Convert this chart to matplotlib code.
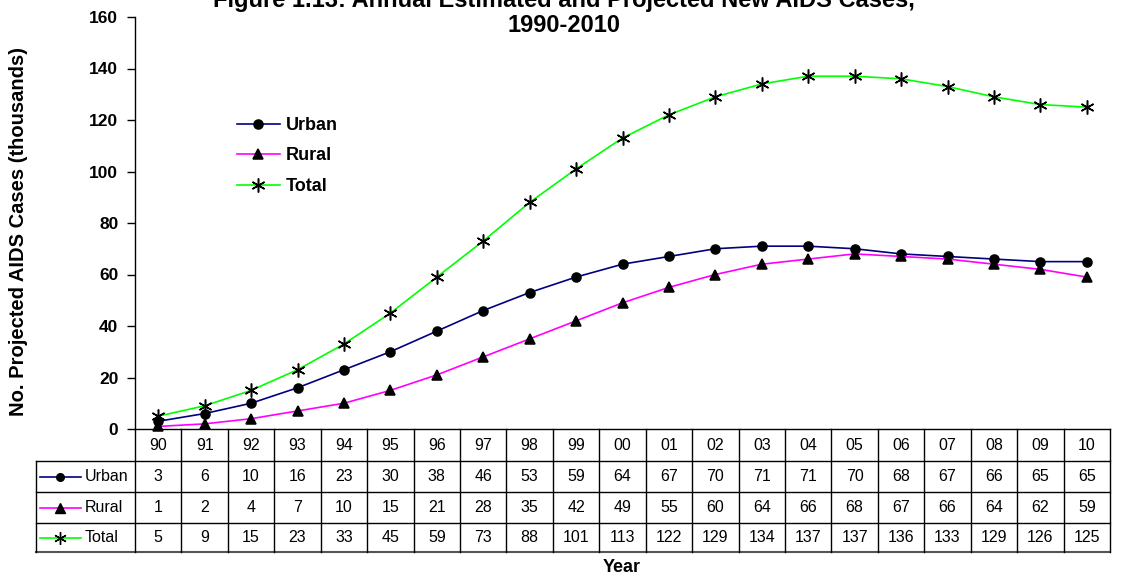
import numpy as np
import matplotlib as mpl
mpl.use('Agg')
import matplotlib.pyplot as plt
from matplotlib.lines import Line2D

plt.rcParams['font.family'] = ['Liberation Sans', 'DejaVu Sans']

years = ["90", "91", "92", "93", "94", "95", "96", "97", "98", "99", "00",
         "01", "02", "03", "04", "05", "06", "07", "08", "09", "10"]
urban = [3, 6, 10, 16, 23, 30, 38, 46, 53, 59, 64, 67, 70, 71, 71, 70, 68, 67, 66, 65, 65]
rural = [1, 2, 4, 7, 10, 15, 21, 28, 35, 42, 49, 55, 60, 64, 66, 68, 67, 66, 64, 62, 59]
total = [5, 9, 15, 23, 33, 45, 59, 73, 88, 101, 113, 122, 129, 134, 137, 137, 136, 133, 129, 126, 125]

W, H = 1124, 579
fig = plt.figure(figsize=(W / 100, H / 100), dpi=100)
ax = fig.add_axes([135 / W, (H - 429) / H, 975 / W, 412 / H])

x = np.arange(len(years))
series = [("Urban", urban, "#000080", "o", 6.5),
          ("Rural", rural, "#FF00FF", "^", 7.5),
          ("Total", total, "#00FF00", (6, 2, 0), 10)]
for name, vals, col, mk, ms in series:
    ax.plot(x, vals, color=col, lw=1.2, marker=mk, ms=ms, mfc="black",
            mec="black", mew=1.1, label=name, clip_on=False, zorder=3)

ax.set_xlim(-0.5, len(years) - 0.5)
ax.set_ylim(0, 160)
ax.set_yticks(range(0, 161, 20))
ax.tick_params(axis="y", labelsize=12.5, length=6, width=1, pad=6)
for t in ax.get_yticklabels():
    t.set_fontweight("bold")
ax.set_xticks([])
for s in ["top", "right"]:
    ax.spines[s].set_visible(False)
ax.spines["bottom"].set_linewidth(1)
ax.spines["left"].set_linewidth(1)

ax.legend(loc="upper left", bbox_to_anchor=(0.097, 0.775), frameon=False,
          prop={"weight": "bold", "size": 13}, handlelength=2.4,
          handletextpad=0.3, labelspacing=0.75, borderaxespad=0)

# data table below the axes
fig_tr = fig.transFigure
def fy(py):
    return (H - py) / H
def fx(px):
    return px / W

col_edges = [135 + 975 * i / len(years) for i in range(len(years) + 1)]
rows_y = [429, 461, 492, 523, 552]
lc = "black"
for ry in rows_y[1:4]:
    fig.add_artist(Line2D([fx(36), fx(1110)], [fy(ry)] * 2, transform=fig_tr, color=lc, lw=1))
fig.add_artist(Line2D([fx(36), fx(1110)], [fy(552)] * 2, transform=fig_tr, color="#555555", lw=1.5))
for e in col_edges:
    fig.add_artist(Line2D([fx(e)] * 2, [fy(429), fy(552)], transform=fig_tr, color=lc, lw=1))
fig.add_artist(Line2D([fx(36)] * 2, [fy(461), fy(552)], transform=fig_tr, color=lc, lw=1))

for i, yr in enumerate(years):
    cx = (col_edges[i] + col_edges[i + 1]) / 2
    fig.text(fx(cx), fy(445), yr, ha="center", va="center", fontsize=11.5)
    for r, (name, vals, col, mk, ms) in enumerate(series):
        cy = (rows_y[r + 1] + rows_y[r + 2]) / 2
        fig.text(fx(cx), fy(cy), str(vals[i]), ha="center", va="center", fontsize=11.5)

for r, (name, vals, col, mk, ms) in enumerate(series):
    cy = (rows_y[r + 1] + rows_y[r + 2]) / 2
    fig.add_artist(Line2D([fx(40), fx(81)], [fy(cy)] * 2, transform=fig_tr, color=col, lw=1.2))
    fig.add_artist(Line2D([fx(60)], [fy(cy)], transform=fig_tr, marker=mk, ms=ms - 1,
                          mfc="black", mec="black", mew=1, ls="none"))
    fig.text(fx(85), fy(cy), name, ha="left", va="center", fontsize=11.5)

fig.text(fx(622), fy(567), "Year", ha="center", va="center", fontsize=13, fontweight="bold")
fig.text(fx(19), fy(231), "No. Projected AIDS Cases (thousands)", ha="center", va="center",
         rotation=90, fontsize=14.5, fontweight="bold")
fig.text(fx(564), fy(0), "Figure 1.13: Annual Estimated and Projected New AIDS Cases,",
         ha="center", va="center", fontsize=17, fontweight="bold")
fig.text(fx(564), fy(25), "1990-2010", ha="center", va="center", fontsize=17, fontweight="bold")

fig.savefig("out.png", dpi=100)
